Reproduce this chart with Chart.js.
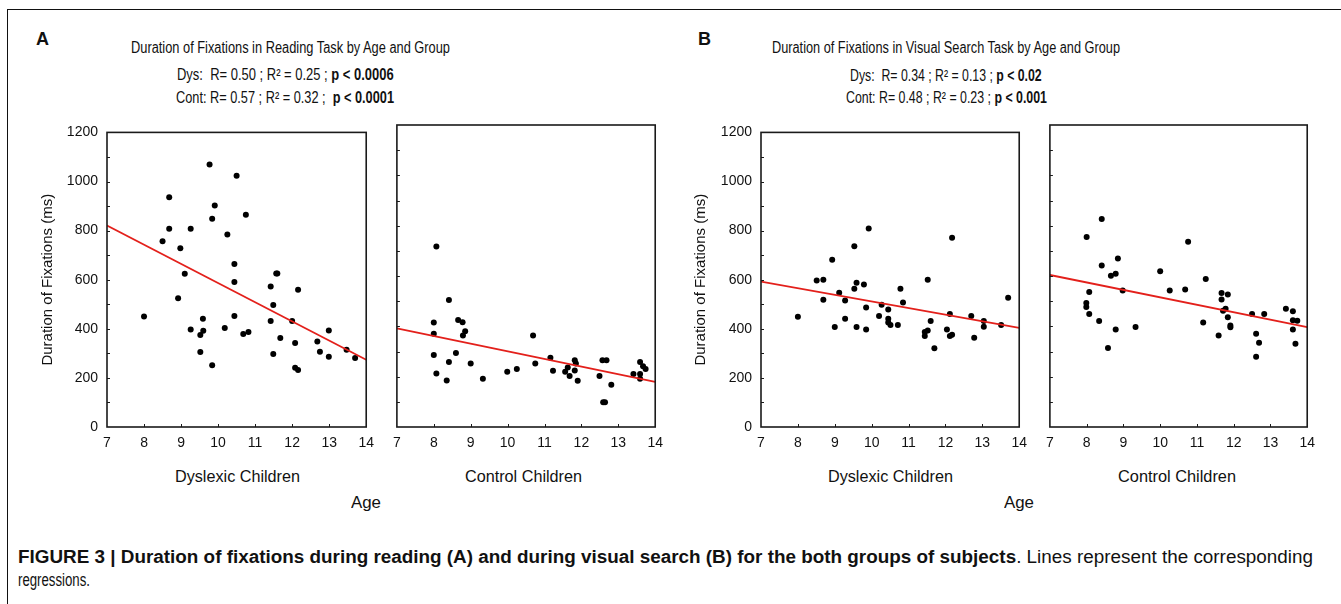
<!DOCTYPE html>
<html>
<head>
<meta charset="utf-8">
<script src="https://cdn.jsdelivr.net/npm/chart.js@4.4.1/dist/chart.umd.min.js"></script>
<style>
  body { margin: 0; background: #fff; width: 1341px; height: 604px; overflow: hidden; position: relative; font-family: 'Liberation Sans', Arial, sans-serif; color: #111; }
  .frame { position: absolute; left: 7px; top: 9px; width: 1400px; height: 700px; border-top: 1px solid #111; border-left: 1px solid #111; }
  canvas { position: absolute; }
  .txt { position: absolute; white-space: pre; transform-origin: 0 0; }
  .letter { position: absolute; font-weight: bold; font-size: 18px; line-height: 20px; }
</style>
</head>
<body>
<div class="frame"></div>

<div class="letter" style="left:36px; top:29px;">A</div>
<div class="letter" style="left:698px; top:29px;">B</div>

<div class="txt fit" data-x="131" data-w="319" data-y="47.7" style="font-size:16px;">Duration of Fixations in Reading Task by Age and Group</div>
<div class="txt fit" data-x="176.7" data-w="216.7" data-y="74.3" style="font-size:16.5px;">Dys:  R= 0.50 ; R² = 0.25 ; <b>p &lt; 0.0006</b></div>
<div class="txt fit" data-x="175.7" data-w="218" data-y="96.7" style="font-size:16.5px;">Cont: R= 0.57 ; R² = 0.32 ;  <b>p &lt; 0.0001</b></div>

<div class="txt fit" data-x="771.7" data-w="348" data-y="48" style="font-size:16px;">Duration of Fixations in Visual Search Task by Age and Group</div>
<div class="txt fit" data-x="850" data-w="191.7" data-y="75" style="font-size:16.5px;">Dys:  R= 0.34 ; R² = 0.13 ; <b>p &lt; 0.02</b></div>
<div class="txt fit" data-x="845.7" data-w="201" data-y="97" style="font-size:16.5px;">Cont: R= 0.48 ; R² = 0.23 ; <b>p &lt; 0.001</b></div>

<canvas id="readDys" width="343" height="342" style="left:39px; top:115px;"></canvas>
<canvas id="readCont" width="286" height="342" style="left:385px; top:115px;"></canvas>
<canvas id="searchDys" width="343" height="342" style="left:692px; top:115px;"></canvas>
<canvas id="searchCont" width="285" height="342" style="left:1038px; top:115px;"></canvas>

<div class="txt fit" data-x="175" data-w="125" data-y="477" style="font-size:16px;">Dyslexic Children</div>
<div class="txt fit" data-x="465" data-w="117" data-y="477" style="font-size:16px;">Control Children</div>
<div class="txt fit" data-x="351" data-w="30" data-y="503" style="font-size:16px;">Age</div>
<div class="txt fit" data-x="828" data-w="125" data-y="477" style="font-size:16px;">Dyslexic Children</div>
<div class="txt fit" data-x="1118" data-w="118" data-y="477" style="font-size:16px;">Control Children</div>
<div class="txt fit" data-x="1004" data-w="30" data-y="503" style="font-size:16px;">Age</div>

<div class="txt fit" data-x="18" data-w="1295" data-y="557" style="font-size:17.5px;"><b>FIGURE 3 | Duration of fixations during reading (A) and during visual search (B) for the both groups of subjects</b>. Lines represent the corresponding</div>
<div class="txt fit" data-x="18" data-w="72" data-y="580" style="font-size:17.5px;">regressions.</div>

<script>
// Reading task, dyslexic children
const readDysAge = [8.0, 8.5, 8.68, 8.68, 8.98, 8.92, 9.1, 9.26, 9.26, 9.52, 9.52, 9.59, 9.6, 9.77, 9.84, 9.84, 9.91, 10.18, 10.25, 10.44, 10.44, 10.44, 10.5, 10.68, 10.75, 10.82, 11.42, 11.42, 11.49, 11.49, 11.57, 11.6, 11.68, 12.0, 12.08, 12.16, 12.08, 12.16, 12.68, 12.75, 12.99, 12.99, 13.47, 13.7];
const readDysDur = [450, 757, 936, 808, 728, 524, 624, 808, 397, 305, 375, 441, 392, 1069, 848, 252, 902, 403, 784, 664, 591, 452, 1023, 379, 865, 387, 572, 432, 497, 297, 625, 625, 363, 432, 342, 559, 241, 232, 348, 307, 393, 286, 315, 281];
const readDysReg = [821, 274];

// Reading task, control children
const readContAge = [8.07, 8.41, 8.0, 8.0, 8.0, 8.07, 8.35, 8.41, 8.6, 8.66, 8.78, 8.85, 8.79, 9.0, 9.33, 9.99, 10.25, 10.69, 10.75, 11.16, 11.23, 11.56, 11.63, 11.68, 11.82, 11.85, 11.82, 11.9, 12.49, 12.57, 12.68, 12.59, 12.64, 12.81, 13.41, 13.59, 13.59, 13.59, 13.67, 13.74];
const readContDur = [717, 505, 415, 371, 286, 213, 185, 258, 294, 425, 416, 380, 364, 252, 192, 220, 230, 364, 252, 275, 224, 220, 236, 203, 265, 252, 225, 184, 203, 265, 265, 98, 98, 168, 211, 258, 211, 192, 241, 230];
const readContReg = [392, 179];

// Visual search task, dyslexic children
const searchDysAge = [8.0, 8.51, 8.69, 8.69, 8.93, 9.0, 9.12, 9.28, 9.28, 9.53, 9.53, 9.59, 9.59, 9.79, 9.85, 9.85, 9.92, 10.2, 10.27, 10.45, 10.45, 10.45, 10.51, 10.71, 10.78, 10.85, 11.44, 11.44, 11.52, 11.52, 11.6, 11.7, 12.04, 12.12, 12.12, 12.18, 12.18, 12.7, 12.78, 13.04, 13.04, 13.51, 13.7];
const searchDysDur = [449, 597, 600, 518, 681, 407, 547, 515, 441, 736, 563, 588, 407, 580, 487, 397, 809, 452, 498, 479, 441, 426, 415, 415, 563, 507, 371, 387, 393, 600, 432, 321, 397, 460, 371, 376, 771, 452, 364, 432, 408, 415, 526];
const searchDysReg = [592, 404];

// Visual search task, control children
const searchContAge = [8.41, 8.0, 8.41, 8.85, 8.66, 8.79, 8.98, 8.07, 7.99, 7.99, 8.07, 8.34, 8.79, 8.58, 9.33, 10.0, 10.26, 10.68, 10.76, 11.24, 11.17, 11.67, 11.84, 11.67, 11.71, 11.78, 11.84, 11.91, 11.91, 11.59, 12.5, 12.83, 12.61, 12.69, 12.61, 13.42, 13.61, 13.61, 13.73, 13.61, 13.68];
const searchContDur = [826, 755, 642, 670, 601, 609, 542, 536, 493, 477, 449, 421, 387, 314, 397, 619, 542, 546, 736, 588, 415, 532, 526, 507, 462, 470, 436, 403, 396, 364, 449, 449, 371, 335, 279, 470, 460, 424, 422, 387, 331];
const searchContReg = [604, 397];

const ageMin = 7, ageMax = 14;
const durMin = 0, durMax = 1200;
const yTitle = 'Duration of Fixations (ms)';
const fontFamily = "'Liberation Sans', Arial, sans-serif";

// squeeze the html texts to the widths seen in the figure
document.querySelectorAll('.fit').forEach(el => {
  const w = parseFloat(el.dataset.w);
  const natural = el.getBoundingClientRect().width;
  el.style.left = el.dataset.x + 'px';
  el.style.lineHeight = '20px';
  el.style.top = (parseFloat(el.dataset.y) - 10) + 'px';
  el.style.transform = 'scaleX(' + (w / natural) + ')';
});

// box round the plot area + small inward ticks
const framePlugin = {
  id: 'frame',
  afterDraw(chart) {
    const { ctx, chartArea: a, scales: { x, y } } = chart;
    ctx.save();
    ctx.strokeStyle = '#1a1a1a';
    ctx.lineWidth = 1;
    ctx.beginPath();
    for (let v = durMin + 100; v < durMax; v += 100) {
      const py = Math.round(y.getPixelForValue(v)) + 0.5;
      ctx.moveTo(a.left, py);
      ctx.lineTo(a.left + 3, py);
    }
    for (let v = ageMin + 1; v < ageMax; v++) {
      const px = Math.round(x.getPixelForValue(v)) + 0.5;
      ctx.moveTo(px, a.bottom);
      ctx.lineTo(px, a.bottom - 3);
    }
    ctx.stroke();
    ctx.lineWidth = 1.6;
    ctx.strokeRect(a.left, a.top, a.right - a.left, a.bottom - a.top);
    ctx.restore();
  }
};

function createPanel(id, ages, durs, reg, showY, yWidth) {
  const ctx = document.getElementById(id).getContext('2d');
  new Chart(ctx, {
    type: 'scatter',
    data: {
      datasets: [
        {
          label: 'Regression',
          type: 'line',
          data: [{ x: ageMin, y: reg[0] }, { x: ageMax, y: reg[1] }],
          borderColor: '#e3201b',
          borderWidth: 1.8,
          pointRadius: 0,
          fill: false
        },
        {
          label: 'Subjects',
          data: ages.map((a, i) => ({ x: a, y: durs[i] })),
          backgroundColor: '#000',
          borderColor: '#000',
          borderWidth: 0,
          pointRadius: 3
        }
      ]
    },
    options: {
      responsive: false,
      animation: false,
      events: [],
      layout: { padding: { top: 10, right: 10, left: 0, bottom: 0 } },
      scales: {
        x: {
          type: 'linear',
          min: ageMin,
          max: ageMax,
          grid: { display: false, drawTicks: false },
          border: { display: false },
          ticks: { stepSize: 1, padding: 8, color: '#111', font: { family: fontFamily, size: 14 }, callback: v => String(v) },
          afterFit(s) { s.height = 30; }
        },
        y: {
          min: durMin,
          max: durMax,
          grid: { display: false, drawTicks: false },
          border: { display: false },
          ticks: { stepSize: 200, display: showY, padding: 9, color: '#111', font: { family: fontFamily, size: 14 }, callback: v => String(v) },
          title: { display: showY, text: yTitle, color: '#111', padding: 0, font: { family: fontFamily, size: 15 } },
          afterFit(s) { s.width = yWidth; }
        }
      },
      plugins: {
        legend: { display: false },
        tooltip: { enabled: false }
      }
    },
    plugins: [framePlugin]
  });
}

createPanel('readDys', readDysAge, readDysDur, readDysReg, true, 68);
createPanel('readCont', readContAge, readContDur, readContReg, false, 10);
createPanel('searchDys', searchDysAge, searchDysDur, searchDysReg, true, 69);
createPanel('searchCont', searchContAge, searchContDur, searchContReg, false, 10);
</script>
</body>
</html>
